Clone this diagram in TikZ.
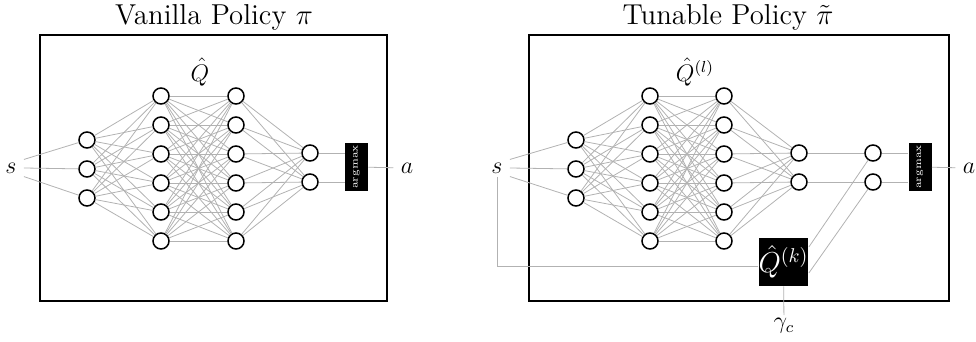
\documentclass[tikz,border=0pt]{standalone}
\usetikzlibrary{calc}
\begin{document}
\begin{tikzpicture}[x=0.5pt,y=-0.5pt,
  neuron/.style={circle,draw=black,line width=0.75pt,fill=white,minimum size=8pt,inner sep=0pt},
  conn/.style={draw=black!30,line width=0.4pt},
  frame/.style={draw=black,line width=1.4pt},
  blackbox/.style={fill=black,text=white,inner sep=0pt},
  lbl/.style={font=\large,inner xsep=3.5pt,inner ysep=1.5pt},
  titlestyle/.style={font=\Large}]
\useasboundingbox (0,0) rectangle (976,342);

% ---------------- Left panel ----------------
\node[titlestyle] (T1) at (214,17) {Vanilla Policy $\pi$};
\draw[frame] (40,35) rectangle (387,301);
\node[font=\large] (QL) at (200,72) {$\hat{Q}$};

\foreach \i in {1,2,3} \node[neuron] (LA\i) at (87,{111+29*\i}) {};
\foreach \i in {1,...,6} \node[neuron] (LB\i) at (161,{67+29*\i}) {};
\foreach \i in {1,...,6} \node[neuron] (LC\i) at (236,{67+29*\i}) {};
\node[neuron] (LD1) at (310,153) {};
\node[neuron] (LD2) at (310,182) {};
\node[blackbox,minimum width=11.5pt,minimum height=24pt] (LM) at (356.5,167) {\rotatebox{90}{\tiny argmax}};
\node[lbl] (Ls) at (11,168) {$s$};
\node[lbl] (La) at (407,168) {$a$};

\draw[conn] (Ls.north east) -- (LA1);
\draw[conn] (Ls.east) -- (LA2);
\draw[conn] (Ls.south east) -- (LA3);
\foreach \i in {1,2,3} \foreach \j in {1,...,6} \draw[conn] (LA\i) -- (LB\j);
\foreach \i in {1,...,6} \foreach \j in {1,...,6} \draw[conn] (LB\i) -- (LC\j);
\foreach \i in {1,...,6} \foreach \j in {1,2} \draw[conn] (LC\i) -- (LD\j);
\draw[conn] (LD1) -- (LD1 -| LM.west);
\draw[conn] (LD2) -- (LD2 -| LM.west);
\draw[conn] (LM) -- (La);

% ---------------- Right panel ----------------
\node[titlestyle] (T2) at (728,17) {Tunable Policy $\tilde{\pi}$};
\draw[frame] (529,35) rectangle (949,301);
\node[font=\large] (QR) at (695,72) {$\hat{Q}^{(l)}$};

\foreach \i in {1,2,3} \node[neuron] (RA\i) at (576,{111+29*\i}) {};
\foreach \i in {1,...,6} \node[neuron] (RB\i) at (650,{67+29*\i}) {};
\foreach \i in {1,...,6} \node[neuron] (RC\i) at (724,{67+29*\i}) {};
\node[neuron] (RD1) at (799,153) {};
\node[neuron] (RD2) at (799,182) {};
\node[neuron] (RE1) at (873,153) {};
\node[neuron] (RE2) at (873,182) {};
\node[blackbox,minimum width=11.5pt,minimum height=24pt] (RM) at (920,167) {\rotatebox{90}{\tiny argmax}};
\node[blackbox,minimum width=24.5pt,minimum height=24pt,font=\Large] (Qk) at (783.5,262) {$\hat{Q}^{(k)}$};
\node[lbl] (Rs) at (497,168) {$s$};
\node[lbl] (Ra) at (969,168) {$a$};
\node[lbl] (G) at (784,326) {$\gamma_c$};

\draw[conn] (Rs.north east) -- (RA1);
\draw[conn] (Rs.east) -- (RA2);
\draw[conn] (Rs.south east) -- (RA3);
\foreach \i in {1,2,3} \foreach \j in {1,...,6} \draw[conn] (RA\i) -- (RB\j);
\foreach \i in {1,...,6} \foreach \j in {1,...,6} \draw[conn] (RB\i) -- (RC\j);
\foreach \i in {1,...,6} \foreach \j in {1,2} \draw[conn] (RC\i) -- (RD\j);
\draw[conn] (RD1) -- (RE1);
\draw[conn] (RD2) -- (RE2);
\draw[conn] (RE1) -- (RE1 -| RM.west);
\draw[conn] (RE2) -- (RE2 -| RM.west);
\draw[conn] (RM) -- (Ra);
\draw[conn] (Rs.south) |- ($(Qk.west)+(0,4)$);
\draw[conn] ($(Qk.east)+(0,-15)$) -- (RE1);
\draw[conn] ($(Qk.east)+(0,11)$) -- (RE2);
\draw[conn] (Qk) -- (G);
\end{tikzpicture}
\end{document}
